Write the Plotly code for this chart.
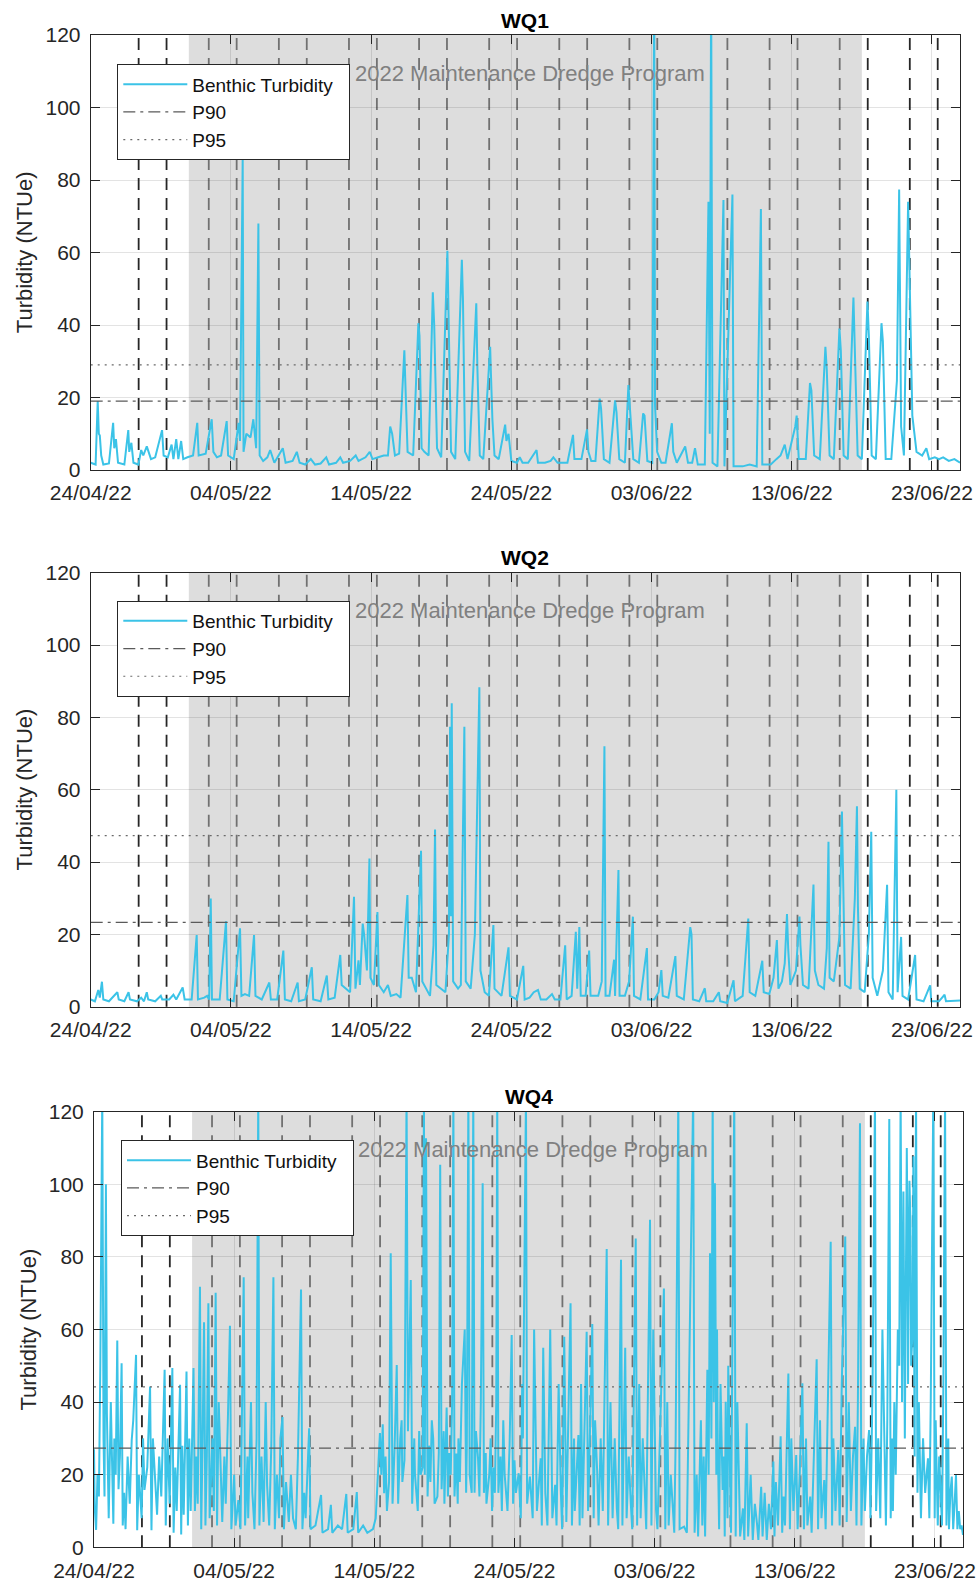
import pandas as pd
import plotly.graph_objects as go

# ---------------- data ----------------
START = "2022-04-24"
X_END_DAY = 62.0                      # axis ends 25/06/22
tick_days = [0, 10, 20, 30, 40, 50, 60]
tick_text = ["24/04/22", "04/05/22", "14/05/22", "24/05/22", "03/06/22", "13/06/22", "23/06/22"]
dredge_start_day = 7.0               # 01/05/22
dredge_end_day = 55.0                # 18/06/22
dredge_label = "2022 Maintenance Dredge Program"
event_days = [3.42, 5.41, 8.42, 10.41, 13.42, 15.41, 18.42, 20.41, 23.42, 25.41,
              28.42, 30.41, 33.42, 35.41, 38.42, 40.41, 45.41, 48.42, 50.41,
              53.42, 55.42, 58.42, 60.41]
site_names = ["WQ1", "WQ2", "WQ4"]
p90_values = [19.0, 23.3, 27.3]
p95_values = [29.0, 47.3, 44.2]

# (day since 24/04/22, turbidity NTUe)
wq1 = [(0.00,2.0),(0.35,1.5),(0.50,19),(0.58,10),(0.65,9.5),(0.75,4),(0.90,1.5),(1.30,1.8),(1.60,13),(1.68,6),
       (1.80,8.5),(1.95,2),(2.40,1.5),(2.68,11),(2.75,5),(2.90,7.5),(3.05,2),(3.40,1.5),(3.60,5.5),(3.75,4),
       (4.00,6.5),(4.30,3),(4.60,3.5),(5.09,11),(5.20,4),(5.50,3.5),(5.77,7),(5.90,3),(6.10,8.5),(6.25,3),
       (6.45,8),(6.60,3),(6.90,3.5),(7.30,4),(7.60,13),(7.70,4),(8.20,4.5),(8.63,14),(8.75,5),(9.00,3.5),
       (9.30,4),(9.70,13.5),(9.80,4),(10.20,3),(10.55,13),(10.65,8),(10.84,86),(10.90,5),(11.10,10),(11.40,9),
       (11.60,14),(11.80,6),(11.96,68),(12.05,4),(12.30,2.5),(12.60,3.5),(12.80,5.5),(13.10,2),(13.70,6),(13.90,2),
       (14.40,2.5),(14.70,5),(14.90,2),(15.30,1.5),(15.70,3),(16.00,1.5),(16.40,1.8),(16.80,3.5),(17.00,1.5),(17.50,2),
       (17.80,3.5),(18.00,2),(18.50,2.5),(18.90,4),(19.10,2.5),(19.60,3.5),(19.90,5),(20.10,3),(20.50,3.5),(20.90,4),
       (21.20,4),(21.36,12),(21.50,10),(21.70,4),(22.00,4.5),(22.37,33),(22.45,23),(22.60,5),(23.00,4),(23.37,40.5),
       (23.45,37),(23.60,6),(23.80,5),(24.10,4),(24.40,49),(24.50,40),(24.70,6),(25.00,3.5),(25.44,60.5),(25.52,45),
       (25.70,5),(26.00,3),(26.47,58),(26.55,47),(26.70,5),(27.00,2.5),(27.50,46),(27.58,28),(27.75,4),(28.00,3),
       (28.49,34),(28.55,26),(28.65,14),(28.80,4),(29.10,3),(29.56,12.5),(29.65,8),(29.80,10),(30.00,2.5),(30.40,2),
       (30.60,3.5),(30.80,2),(31.20,2),(31.80,5.5),(31.90,2),(32.40,2),(32.80,2.5),(33.00,3.5),(33.30,2),(34.00,2),
       (34.40,9.7),(34.50,3),(35.00,3),(35.40,11.2),(35.50,5),(35.70,2.5),(36.00,2.5),(36.30,19.7),(36.40,17),(36.60,3),
       (37.00,2),(37.40,19.2),(37.50,16),(37.70,3),(38.10,2),(38.35,23.4),(38.45,17.4),(38.70,3),(39.10,2),(39.40,15.6),
       (39.50,15),(39.70,2.5),(40.05,2),(40.19,135),(40.25,17.8),(40.40,5),(40.70,2),(41.00,2),(41.45,12.9),(41.55,5),
       (41.80,2),(42.40,6.5),(42.60,2),(42.90,2),(43.10,6),(43.30,1.5),(43.80,1.5),(44.06,74),(44.15,10),(44.25,135),
       (44.35,2),(44.70,1),(45.13,74.5),(45.20,1),(45.77,76),(45.85,1),(46.50,1),(47.00,1.5),(47.50,1),(47.80,72),
       (47.90,1.5),(48.50,1.5),(48.90,3),(49.20,4),(49.50,7),(49.70,3),(50.25,12),(50.35,15),(50.50,3),(51.00,3),
       (51.30,24),(51.40,22),(51.60,4),(52.00,3),(52.40,34),(52.50,27.5),(52.70,4),(53.00,3),(53.40,39),(53.50,33),
       (53.70,4),(54.00,3),(54.40,47.6),(54.50,35),(54.70,4),(55.00,3),(55.40,46.5),(55.50,37),(55.70,4),(56.00,3),
       (56.40,40.5),(56.50,35.5),(56.70,3),(57.10,3),(57.50,24.6),(57.66,77.4),(57.80,12),(58.00,4),(58.30,74),(58.60,15),
       (58.70,12),(58.90,5),(59.30,4),(59.60,6),(59.80,3),(60.20,3.5),(60.50,3),(60.80,3.5),(61.20,2.5),(61.60,3),(62.00,2)]

wq2 = [(0.00,2),(0.30,1.5),(0.54,4.6),(0.65,2.5),(0.80,6.9),(0.90,2),(1.30,1.5),(1.90,4),(2.00,2),(2.40,1.5),
       (2.70,4),(2.80,2),(3.30,1.5),(3.60,2.5),(3.80,1.5),(4.00,4),(4.10,2),(4.60,1.5),(5.00,3),(5.10,2),
       (5.60,2),(5.90,3.3),(6.10,2),(6.56,5.3),(6.70,2),(7.20,2),(7.56,19.8),(7.65,2),(8.10,2.5),(8.30,3),
       (8.45,2),(8.56,29.9),(8.65,2),(9.20,2),(9.65,23.6),(9.75,2),(10.20,1.5),(10.65,21.7),(10.75,3),(11.00,3.5),
       (11.30,3),(11.65,19.8),(11.75,3),(12.20,2),(12.74,6.7),(12.85,2),(13.30,2),(13.74,15.5),(13.85,2),(14.30,1.5),
       (14.76,6.7),(14.85,1.5),(15.30,2),(15.77,10.9),(15.87,2),(16.40,1.5),(16.84,8.6),(16.95,2),(17.40,2.5),(17.80,14.3),
       (17.90,6),(18.20,5),(18.50,4),(18.78,30.4),(18.88,5),(19.10,12.8),(19.20,6),(19.40,23),(19.50,20),(19.70,10),
       (19.88,41),(19.95,8),(20.20,6),(20.45,26.2),(20.55,6),(20.90,4),(21.20,6),(21.40,3),(21.80,3.5),(22.10,2.5),
       (22.59,30.9),(22.68,8),(22.90,8),(23.20,4),(23.56,43.1),(23.65,7),(23.90,5),(24.20,3),(24.45,17),(24.56,49),
       (24.65,6),(25.00,5),(25.30,4),(25.55,20),(25.63,77.4),(25.70,25),(25.75,83.9),(25.85,7),(26.20,5),(26.40,6),
       (26.65,77.4),(26.75,7),(27.10,5),(27.40,20),(27.72,88.3),(27.80,10),(28.10,4),(28.40,3),(28.72,22.6),(28.80,5),
       (29.30,3),(29.80,16.4),(29.90,3),(30.40,2),(30.85,11.3),(30.95,2),(31.30,2.5),(31.60,4),(31.90,4.6),(32.10,2),
       (32.50,2),(32.90,3.5),(33.10,2),(33.50,2),(33.84,17),(33.95,2),(34.30,3),(34.60,20.7),(34.70,5),(34.85,22),
       (34.95,3),(35.30,3),(35.55,15.5),(35.65,3),(36.20,3),(36.45,7),(36.64,72),(36.72,3),(37.00,3),(37.33,13),
       (37.40,3),(37.64,37.8),(37.72,3),(38.10,3),(38.40,7),(38.67,24.9),(38.75,3),(39.20,2),(39.67,16.2),(39.75,2),
       (40.20,2),(40.50,4),(40.70,10.1),(40.80,3),(41.20,2.5),(41.70,14),(41.80,3),(42.30,2),(42.76,22),(42.85,20),
       (42.95,2),(43.40,1.5),(43.80,5.1),(43.90,1.5),(44.40,1.5),(44.80,4),(44.90,1.5),(45.40,1),(45.85,7.3),(45.95,1.5),
       (46.50,3),(46.90,24.4),(47.00,4),(47.40,3),(47.90,12.7),(48.00,4),(48.40,3.5),(48.70,8),(48.94,18.4),(49.05,5),
       (49.30,7),(49.50,12),(49.66,25.6),(49.75,15.7),(49.90,6),(50.30,10),(50.55,24.9),(50.62,17),(50.80,6),(51.20,5),
       (51.55,33.8),(51.65,10),(51.90,6),(52.30,5),(52.50,16.2),(52.62,45.6),(52.70,8),(53.00,7),(53.40,19.3),(53.58,54),
       (53.68,30.2),(53.80,6),(54.20,5),(54.50,30),(54.65,55.4),(54.72,27.6),(54.85,5),(55.20,4),(55.50,20),(55.67,48.4),
       (55.77,8),(56.10,3),(56.50,10),(56.80,33.7),(56.90,4),(57.20,2),(57.46,60),(57.55,4),(57.80,19.3),(57.90,3),
       (58.30,2),(58.80,14.3),(58.90,2),(59.40,1.5),(59.87,5.9),(59.95,1.5),(60.50,1.5),(60.90,3.3),(61.00,1.5),(61.50,1.5),
       (62.00,1.7)]

wq4 = [(0.00,27),(0.05,11),(0.15,4.8),(0.35,14),(0.59,125),(0.68,30),(0.75,14),(0.85,100),(0.92,37),(1.05,8),
       (1.38,6.5),(1.55,20),(1.66,57),(1.75,16),(1.97,50.7),(2.05,6),(2.25,5),(2.55,12),(2.69,29.5),(2.80,35),
       (3.00,53),(3.08,4.7),(3.40,8),(3.60,15.8),(4.00,44.3),(4.10,4.7),(4.30,22),(4.50,9),(4.80,14),(5.04,48.9),
       (5.12,6),(5.40,12),(5.59,49.4),(5.68,4),(5.90,10),(6.14,44.8),(6.22,3.5),(6.40,9),(6.60,48.4),(6.70,6),
       (6.90,10),(7.10,49.4),(7.20,10),(7.40,12),(7.56,71.8),(7.65,5),(7.85,62),(7.95,6),(8.16,67.2),(8.25,8),
       (8.45,30),(8.55,10),(8.68,70.1),(8.78,6),(9.05,18.7),(9.15,7),(9.40,12),(9.70,61),(9.80,5),(10.10,6),
       (10.30,13),(10.45,5),(10.68,74.4),(10.78,6),(11.00,8),(11.30,15),(11.45,5),(11.72,125),(11.80,6),(12.10,7),
       (12.35,17),(12.50,6),(12.80,74.4),(12.90,5),(13.20,8),(13.45,35.9),(13.55,5),(13.90,7),(14.20,8),(14.40,5),
       (14.77,71),(14.87,5),(15.10,8),(15.35,32.8),(15.45,5),(15.80,6),(16.20,14.4),(16.30,4),(16.70,5),(16.90,11.7),
       (17.00,4),(17.40,6),(17.70,5),(18.00,14.7),(18.10,4),(18.50,5),(18.75,15.2),(18.85,4),(19.20,6),(19.50,4),
       (19.90,5),(20.10,8),(20.40,31.5),(20.50,20),(20.60,33.9),(20.70,14.9),(20.90,10),(21.17,81),(21.30,12),(21.60,50.2),
       (21.70,12),(21.85,30),(22.00,18),(22.30,125),(22.40,32),(22.60,73.6),(22.70,12),(22.90,20),(23.10,10),(23.30,20),
       (23.54,125),(23.60,20),(23.69,112.7),(23.80,14),(24.00,18),(24.20,30),(24.30,12),(24.50,14),(24.70,105.4),(24.80,16),
       (25.00,12),(25.16,38.5),(25.25,14),(25.45,20),(25.64,125),(25.72,14),(25.85,25.8),(25.95,12),(26.10,18),(26.45,60),
       (26.55,15),(26.71,125),(26.80,20),(26.95,15),(27.06,125),(27.15,15),(27.40,24.5),(27.50,14),(27.73,100.3),(27.82,15),
       (28.00,12),(28.20,20),(28.40,10),(28.60,15),(28.77,125),(28.85,15),(29.10,10),(29.30,20),(29.50,10),(29.80,58.5),
       (29.90,12),(30.10,15),(30.30,20.4),(30.45,8),(30.82,125),(30.90,12),(31.10,19.5),(31.30,8),(31.60,10),(31.87,24.5),
       (31.95,6),(32.20,14.9),(32.35,6),(32.70,8),(32.90,17.2),(33.00,6),(33.30,16.3),(33.40,5),(33.70,7),(34.00,67.2),
       (34.10,6),(34.30,10),(34.56,30.9),(34.65,6),(34.85,8),(35.15,59.4),(35.25,10),(35.55,61.5),(35.65,8),(35.90,20.9),
       (36.00,6),(36.30,10),(36.58,82.2),(36.68,6),(37.00,8),(37.30,10.7),(37.40,5),(37.60,79.2),(37.70,6),(38.00,8),
       (38.30,12),(38.40,5),(38.65,85.1),(38.75,6),(39.00,8),(39.30,12),(39.40,5),(39.67,90.2),(39.77,6),(40.10,10.3),
       (40.20,5),(40.66,71.3),(40.76,5),(41.00,6),(41.30,10.7),(41.40,4),(41.69,125),(41.78,5),(42.10,5.7),(42.30,4),
       (42.75,125),(42.85,4),(43.10,3),(43.40,6),(43.60,3),(43.76,48.9),(43.85,20),(43.95,81),(44.05,30),(44.14,125),
       (44.22,40),(44.30,100.3),(44.40,20),(44.60,5),(44.85,15.8),(45.00,3),(45.07,40.1),(45.20,8),(45.35,20),(45.45,4),
       (45.68,125),(45.78,3),(46.10,3),(46.30,10.7),(46.40,2),(46.57,34.2),(46.67,3),(47.00,2),(47.30,6.6),(47.40,2),
       (47.60,16.7),(47.70,3),(48.00,2),(48.30,5),(48.47,23.6),(48.55,3),(48.80,6),(48.99,30.6),(49.10,4),(49.30,6),
       (49.54,47.9),(49.65,5),(49.90,10),(50.10,25.4),(50.20,5),(50.54,45.2),(50.65,5),(50.90,6),(51.10,14),(51.20,4),
       (51.56,51.8),(51.66,5),(51.90,8),(52.10,18.5),(52.20,5),(52.56,84.2),(52.66,6),(52.90,10),(53.10,26.8),(53.20,6),
       (53.60,85.6),(53.70,7),(54.00,10),(54.30,33.2),(54.40,6),(54.65,116.8),(54.75,6),(55.00,10),(55.30,32.3),(55.40,8),
       (55.72,125),(55.80,10),(56.10,8),(56.40,26.3),(56.50,6),(56.74,118),(56.84,8),(57.00,10),(57.20,20),(57.35,60),
       (57.55,125),(57.65,40),(57.75,98),(57.85,30),(57.99,110),(58.08,45),(58.18,101),(58.30,50),(58.46,107.7),(58.55,25),
       (58.65,125),(58.75,15),(59.00,8),(59.30,15),(59.50,24.5),(59.60,8),(59.88,125),(59.98,8),(60.20,6),(60.40,15),
       (60.50,6),(60.72,125),(60.82,6),(61.00,5),(61.20,19.5),(61.30,5),(61.50,20),(61.60,5),(61.80,5),(62.00,3.4)]
# further WQ4 peaks read from the densely filled parts of the panel
wq4_dense = [(0.25,20),(0.45,50),(1.20,40),(1.45,30),(1.85,25),(2.15,15),(2.40,25),(3.20,20),(3.50,30),(3.80,22),
             (4.20,30),(4.65,25),(5.25,30),(5.80,22),(6.30,28),(6.80,30),(7.30,25),(7.75,30),(8.05,25),(8.90,40),
             (9.30,25),(9.55,35),(10.00,20),(10.55,30),(10.95,25),(11.20,40),(11.60,30),(11.95,25),(12.25,40),(12.65,28),
             (13.05,20),(13.30,30),(13.70,18),(14.05,20),(14.55,25),(15.00,15),
             (20.25,22),(20.80,25),(21.05,18),(21.45,28),(21.95,35),(22.15,24),(22.85,30),(23.20,32),(23.45,22),(23.90,28),
             (24.10,35),(24.60,26),(24.95,32),(25.35,26),(25.55,40),(26.00,30),(26.25,45),(26.60,28),(27.25,32),(27.60,40),
             (27.95,26),(28.30,30),(28.50,22),(28.70,40),(29.00,25),(29.20,35),(29.65,28),(30.00,24),(30.60,30),
             (30.55,45),(31.40,60),(32.05,55),(32.55,60),(33.15,45),(33.55,58),(34.25,30),(34.75,45),(35.35,25),(35.75,35),
             (36.15,30),(36.85,40),(37.15,30),(37.90,55),(38.15,25),(38.90,45),(39.15,30),(39.90,60),(40.35,25),(40.90,40),
             (41.15,20),(41.50,30),(43.00,20),(43.30,35),(43.50,25),(44.45,60),(44.50,30),(44.70,45),(44.95,25),(45.25,50),
             (45.50,30),(45.90,40),(46.85,20),(47.15,12),(47.85,15),(48.15,12),(48.65,18),(49.20,14),(49.75,30),(50.35,20),
             (50.80,30),(51.35,25),(51.80,35),(52.35,40),(52.75,30),(53.35,45),(53.85,40),(54.15,25),(54.50,40),(54.90,30),
             (55.15,25),(55.55,45),(55.95,30),(56.25,60),(56.60,35),(56.95,30),(57.10,40),(57.45,50),(57.90,70),(58.05,80),
             (58.25,90),(58.40,60),(58.58,70),(58.85,40),(59.15,30),(59.70,40),(60.05,35),(60.30,25),(60.60,45),(60.95,30),
             (61.10,15),(61.40,12),(61.70,10),(61.90,6)]
series = [wq1, wq2, sorted(wq4 + wq4_dense)]

# ---------------- styling ----------------
W, H = 979, 1586
FONT = "Liberation Sans, Arial, Helvetica, sans-serif"
CYAN = "#3bc3e7"
AX = "#262626"
# axis pixel boxes: (left, right, top, bottom)
boxes = [(90.7, 960.0, 35.0, 470.0), (90.7, 960.0, 572.7, 1006.7), (94.0, 963.0, 1111.7, 1547.3)]
legend_pos = [(117.3, 64.3), (117.3, 601.0), (121.0, 1140.3)]

t0 = pd.Timestamp(START)
def day2date(d):
    return t0 + pd.Timedelta(days=float(d))

fig = go.Figure()
shapes, annotations = [], []
layout = dict(width=W, height=H, margin=dict(l=0, r=0, t=0, b=0, pad=0, autoexpand=False),
              paper_bgcolor="white", plot_bgcolor="white", showlegend=True)

for i, (name, data, p90, p95, box, lp) in enumerate(zip(site_names, series, p90_values, p95_values, boxes, legend_pos)):
    k = "" if i == 0 else str(i + 1)
    xa, ya = "x" + k, "y" + k
    leg = "legend" + k
    l, r, t, b = box
    xs = [day2date(d) for d, v in data]
    ys = [v for d, v in data]
    fig.add_trace(go.Scatter(x=xs, y=ys, mode="lines", name="Benthic Turbidity\u00a0\u00a0",
                             line=dict(color=CYAN, width=2), xaxis=xa, yaxis=ya, legend=leg))
    xr = [day2date(0), day2date(X_END_DAY)]
    fig.add_trace(go.Scatter(x=xr, y=[p90, p90], mode="lines", name="P90",
                             line=dict(color="#5a5a5a", width=1.3, dash="12px,5px,3px,5px"),
                             xaxis=xa, yaxis=ya, legend=leg))
    fig.add_trace(go.Scatter(x=xr, y=[p95, p95], mode="lines", name="P95",
                             line=dict(color="#6a6a6a", width=1.2, dash="2px,5px"),
                             xaxis=xa, yaxis=ya, legend=leg))

    layout["xaxis" + k] = dict(
        domain=[l / W, r / W], anchor=ya, type="date", automargin=False,
        range=[day2date(0), day2date(X_END_DAY)],
        tickvals=[day2date(d) for d in tick_days], ticktext=tick_text,
        ticks="inside", ticklen=9, tickwidth=1, tickcolor=AX, ticklabelstandoff=4,
        showline=True, linecolor=AX, linewidth=1, mirror="ticks",
        showgrid=True, gridcolor="rgba(38,38,38,0.13)", gridwidth=1,
        zeroline=False, tickfont=dict(family=FONT, size=21, color=AX))
    layout["yaxis" + k] = dict(
        domain=[1 - b / H, 1 - t / H], anchor=xa, range=[0, 120], automargin=False,
        tickvals=[0, 20, 40, 60, 80, 100, 120],
        ticks="inside", ticklen=9, tickwidth=1, tickcolor=AX, ticklabelstandoff=5,
        showline=True, linecolor=AX, linewidth=1, mirror="ticks",
        showgrid=True, gridcolor="rgba(38,38,38,0.13)", gridwidth=1,
        zeroline=False, tickfont=dict(family=FONT, size=21, color=AX))
    layout[leg] = dict(x=lp[0] / W, y=1 - lp[1] / H, xanchor="left", yanchor="top",
                       bgcolor="white", bordercolor=AX, borderwidth=1,
                       font=dict(family=FONT, size=19, color="#111111"),
                       itemwidth=64, tracegroupgap=0)

    # event lines (under the shading)
    for d in event_days:
        shapes.append(dict(type="line", xref=xa, yref=ya + " domain", x0=day2date(d), x1=day2date(d),
                           y0=0, y1=1, layer="below",
                           line=dict(color="#262626", width=1.8, dash="12px,8px")))
    shapes.append(dict(type="rect", xref=xa, yref=ya + " domain",
                       x0=day2date(dredge_start_day), x1=day2date(dredge_end_day), y0=0, y1=1,
                       layer="below", fillcolor="rgba(188,188,188,0.5)", line=dict(width=0)))

    annotations.append(dict(xref=xa, yref=ya, x=day2date(31.35), y=109.5, text=dredge_label,
                            showarrow=False, xanchor="center", yanchor="middle",
                            font=dict(family=FONT, size=22, color="#808080")))
    annotations.append(dict(xref="paper", yref="paper", x=(l + r) / 2 / W, y=1 - (t - 15) / H,
                            text="<b>%s</b>" % name, showarrow=False, xanchor="center", yanchor="middle",
                            font=dict(family=FONT, size=21, color="#000000")))
    annotations.append(dict(xref="paper", yref="paper", x=(l - 66) / W, y=1 - (t + b) / 2 / H,
                            text="Turbidity (NTUe)", textangle=-90, showarrow=False,
                            xanchor="center", yanchor="middle",
                            font=dict(family=FONT, size=22, color=AX)))

layout["shapes"] = shapes
layout["annotations"] = annotations
fig.update_layout(**layout)
fig.write_html("out.html", config={"displayModeBar": False},
               post_script="document.body.style.margin='0px';document.body.style.overflow='hidden';")
